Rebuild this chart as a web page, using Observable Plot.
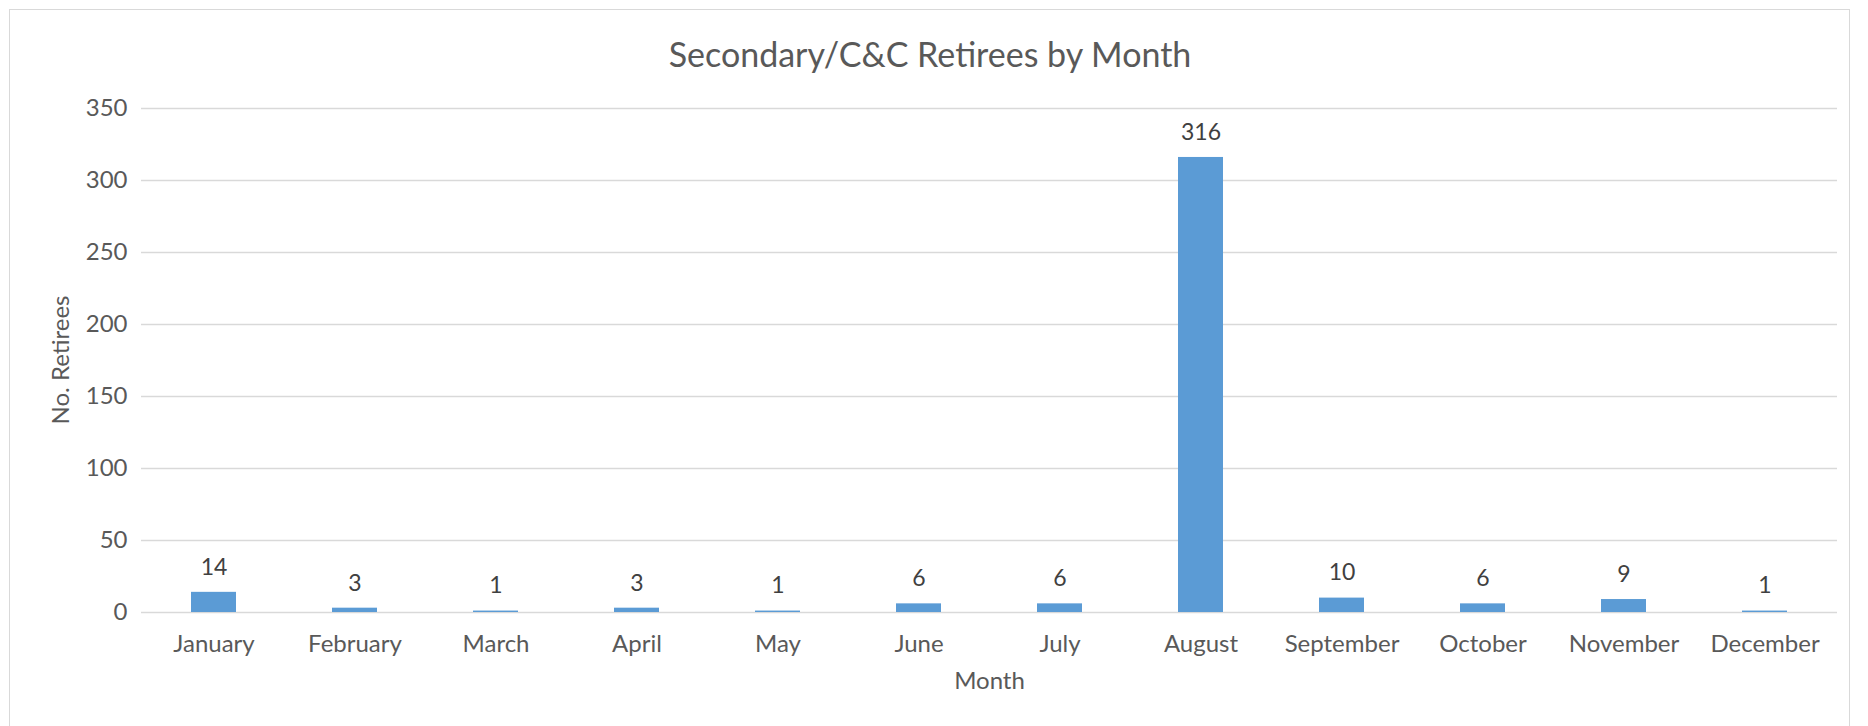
<!DOCTYPE html>
<html>
<head>
<meta charset="utf-8">
<script src="https://cdn.jsdelivr.net/npm/d3@7"></script>
<script src="https://cdn.jsdelivr.net/npm/@observablehq/plot@0.6"></script>
<style>
  html, body { margin: 0; padding: 0; background: #fff; }
  body { width: 1868px; height: 726px; position: relative; overflow: hidden; font-family: Lato, "Open Sans", sans-serif; }
  #frame { position: absolute; left: 9px; top: 9px; width: 1841px; height: 740px; border: 1.5px solid #d9d9d9; box-sizing: border-box; }
  #title { position: absolute; left: 0; width: 1860px; top: 34px; text-align: center; font-size: 34px; color: #595959; line-height: 40px; }
  #ylabel { position: absolute; left: 60px; top: 360px; transform: translate(-50%, -50%) rotate(-90deg); font-size: 24px; color: #595959; white-space: nowrap; line-height: 28px; }
  #chart { position: absolute; left: 0; top: 0; }
</style>
</head>
<body>
<div id="frame"></div>
<div id="chart"></div>
<div id="title">Secondary/C&amp;C Retirees by Month</div>
<div id="ylabel">No. Retirees</div>
<script>
const months = ["January","February","March","April","May","June","July","August","September","October","November","December"];
const retirees = [14, 3, 1, 3, 1, 6, 6, 316, 10, 6, 9, 1];
const yTicks = [0, 50, 100, 150, 200, 250, 300, 350];

const data = months.map((m, i) => ({month: m, value: retirees[i]}));

const chart = Plot.plot({
  width: 1868,
  height: 726,
  marginTop: 108,
  marginBottom: 114,
  marginLeft: 141,
  marginRight: 31,
  style: {fontFamily: "Lato, 'Open Sans', sans-serif", fontSize: "24px", color: "#595959", background: "transparent"},
  x: {domain: months, paddingInner: 0.68, paddingOuter: 0.34, label: null},
  y: {domain: [0, 350], label: null},
  marks: [
    Plot.gridY(yTicks, {stroke: "#d9d9d9", strokeOpacity: 1, strokeWidth: 1.5}),
    Plot.axisY(yTicks, {tickSize: 0, tickPadding: 14, fontSize: 24, fill: "#595959", label: null}),
    Plot.axisX({tickSize: 0, tickPadding: 22, fontSize: 24, fill: "#595959", label: null}),
    Plot.barY(data, {x: "month", y: "value", fill: "#5B9BD5"}),
    Plot.text(data, {x: "month", y: "value", text: d => String(d.value), dy: -25, fontSize: 23, fill: "#404040"}),
    Plot.text(["Month"], {frameAnchor: "bottom", dy: 76, fontSize: 24, fill: "#595959"})
  ]
});
document.getElementById("chart").appendChild(chart);
</script>
</body>
</html>
